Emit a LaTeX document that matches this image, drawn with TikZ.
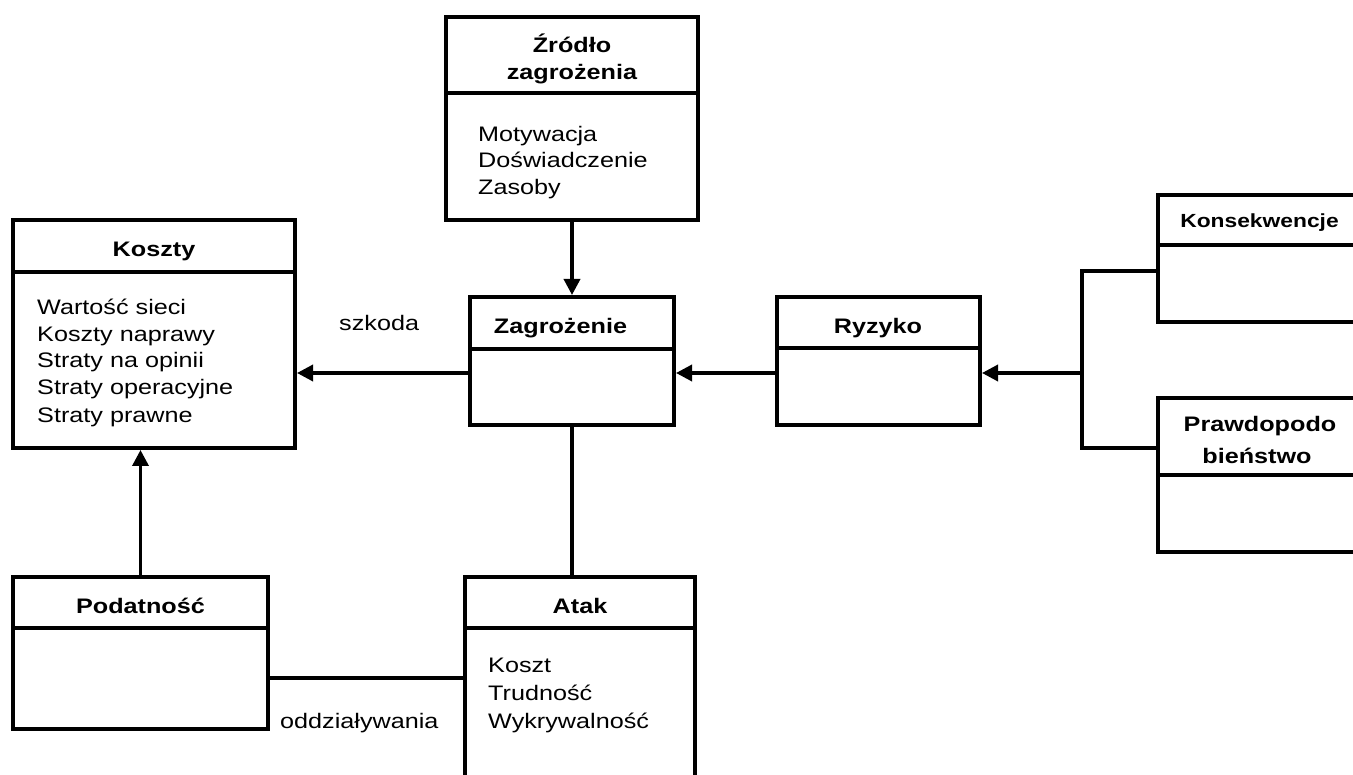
\documentclass[tikz,border=0pt]{standalone}
\usepackage{fontspec}
\setmainfont{Liberation Sans}[FakeStretch=1.2]
\usetikzlibrary{arrows.meta}
\begin{document}
\begin{tikzpicture}[x=1pt,y=-1pt,
  box/.style={draw, line width=4pt, inner sep=0pt, outer sep=2pt, rectangle},
  divider/.style={line width=4pt},
  conn/.style={line width=3.5pt, line join=miter},
  arr/.style={conn, -{Triangle[length=16pt,width=16pt]}},
  hd/.style={font=\fontsize{21}{27}\selectfont\bfseries, anchor=base, inner sep=0pt},
  hdsmall/.style={font=\fontsize{19}{25}\selectfont\bfseries, anchor=base, inner sep=0pt},
  bd/.style={font=\fontsize{21}{27}\selectfont, anchor=base west, inner sep=0pt},
  lbl/.style={font=\fontsize{21}{27}\selectfont, anchor=base west, inner sep=0pt}
]
\useasboundingbox (0,0) rectangle (1353,775);
\clip (0,0) rectangle (1353,775);

% boxes
\node[box, minimum width=252pt, minimum height=203pt] (zrodlo) at (572,118.5) {};
\node[box, minimum width=282pt, minimum height=228pt] (koszty) at (154,334) {};
\node[box, minimum width=204pt, minimum height=128pt] (zagr) at (572,361) {};
\node[box, minimum width=203pt, minimum height=128pt] (ryz) at (878.5,361) {};
\node[box, minimum width=222pt, minimum height=127pt] (kons) at (1269,258.5) {};
\node[box, minimum width=222pt, minimum height=154pt] (praw) at (1269,475) {};
\node[box, minimum width=255pt, minimum height=152pt] (pod) at (140.5,653) {};
\node[box, minimum width=230pt, minimum height=223pt] (atak) at (580,688.5) {};

% header dividers
\draw[divider] (zrodlo.west |- 0,93) -- (zrodlo.east |- 0,93);
\draw[divider] (koszty.west |- 0,272) -- (koszty.east |- 0,272);
\draw[divider] (zagr.west |- 0,349) -- (zagr.east |- 0,349);
\draw[divider] (ryz.west |- 0,348) -- (ryz.east |- 0,348);
\draw[divider] (kons.west |- 0,245) -- (kons.east |- 0,245);
\draw[divider] (praw.west |- 0,475) -- (praw.east |- 0,475);
\draw[divider] (pod.west |- 0,628) -- (pod.east |- 0,628);
\draw[divider] (atak.west |- 0,628) -- (atak.east |- 0,628);

% connectors
\coordinate (mid) at (0,373);
\coordinate (br) at (1082,373);
\coordinate (brt) at (1082,271);
\coordinate (brb) at (1082,448);
\coordinate (lowmid) at (0,678);
\draw[arr] (zrodlo.south) -- (zagr.north);
\draw[arr] (zagr.west |- mid) -- (koszty.east |- mid);
\draw[arr] (ryz.west |- mid) -- (zagr.east |- mid);
\draw[arr] (br) -- (ryz.east |- br);
\draw[conn] (kons.west |- brt) -- (brt) -- (brb) -- (praw.west |- brb);
\draw[conn] (zagr.south) -- (zagr.south |- atak.north);
\draw[arr] (pod.north) -- (pod.north |- koszty.south);
\draw[conn] (pod.east |- lowmid) -- (atak.west |- lowmid);

% texts
\node[hd] (tzr1) at (572,53) {Źródło};
\node[hd] (tzr2) at (572,80) {zagrożenia};
\node[bd] (tzr3) at (478,142) {Motywacja};
\node[bd] (tzr4) at (478,168) {Doświadczenie};
\node[bd] (tzr5) at (478,195) {Zasoby};

\node[hd] (tko) at (154,257) {Koszty};
\node[bd] (tko1) at (37,315) {Wartość sieci};
\node[bd] (tko2) at (37,342) {Koszty naprawy};
\node[bd] (tko3) at (37,368) {Straty na opinii};
\node[bd] (tko4) at (37,395) {Straty operacyjne};
\node[bd] (tko5) at (37,423) {Straty prawne};

\node[hd] (tza) at (560.5,334) {Zagrożenie};
\node[hd] (try) at (878,334) {Ryzyko};
\node[hdsmall] (tkon) at (1259.5,228) {Konsekwencje};
\node[hd] (tpr1) at (1260,432) {Prawdopodo};
\node[hd] (tpr2) at (1257,464) {bieństwo};

\node[hd] (tpo) at (140.5,613) {Podatność};
\node[hd] (tat) at (580,613) {Atak};
\node[bd] (tat1) at (488,672) {Koszt};
\node[bd] (tat2) at (488,700) {Trudność};
\node[bd] (tat3) at (488,728) {Wykrywalność};

\node[lbl] (lsz) at (339,331) {szkoda};
\node[lbl] (lod) at (280,728) {oddziaływania};
\end{tikzpicture}
\end{document}
